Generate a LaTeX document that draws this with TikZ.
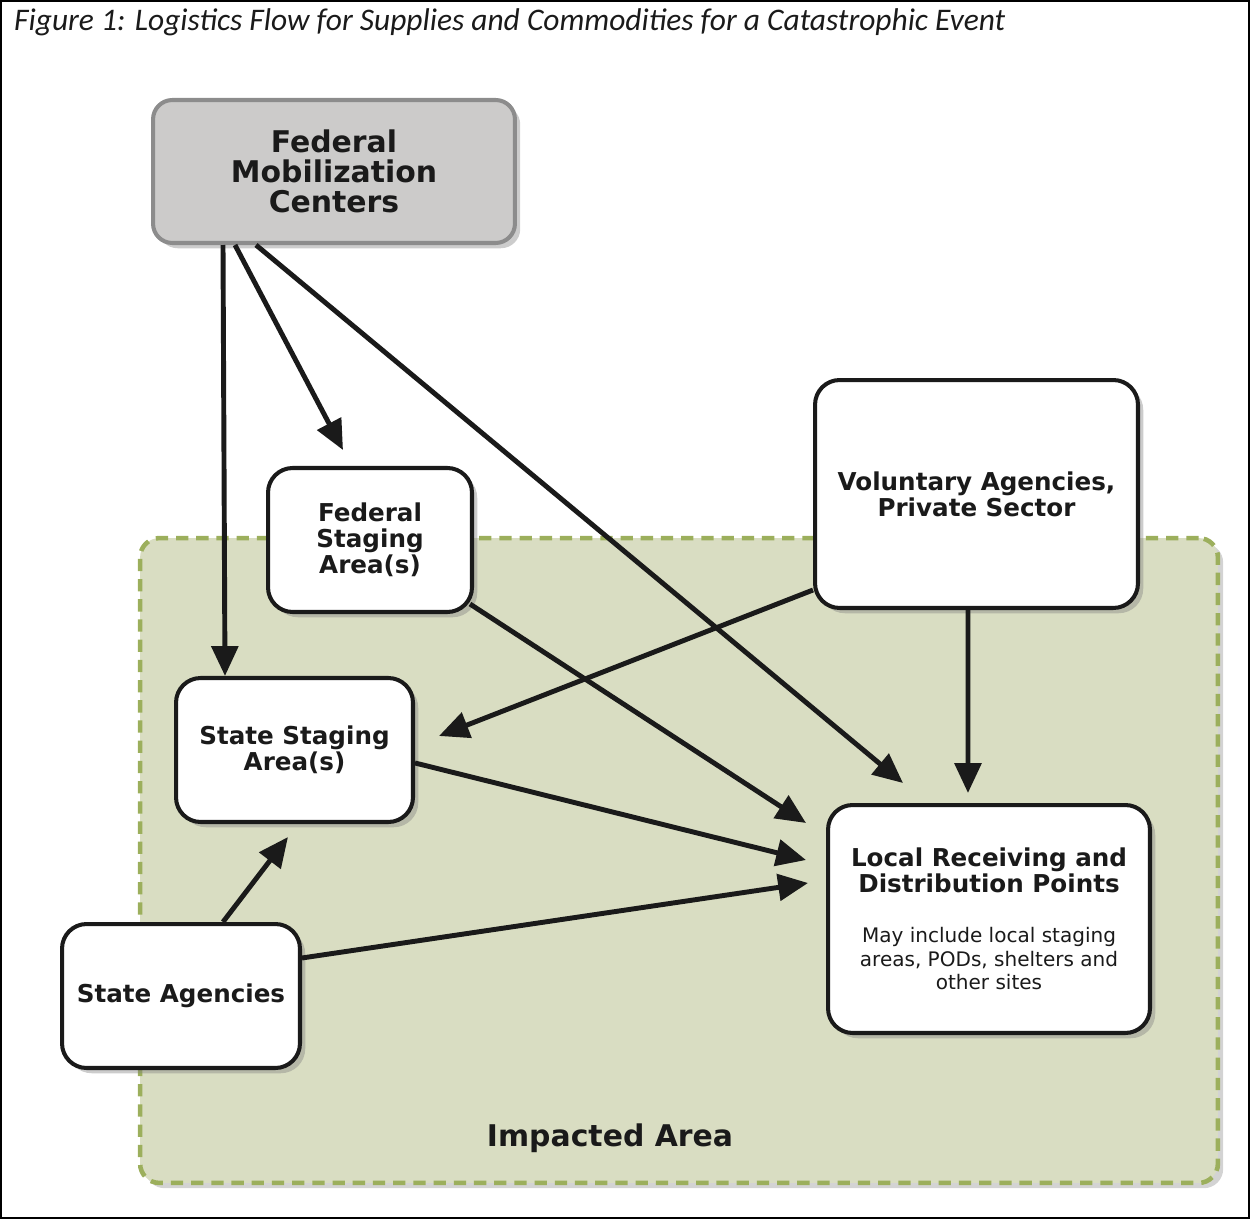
\documentclass[tikz,border=0pt]{standalone}
\usepackage{fontspec}
\setmainfont{DejaVu Sans}
\newfontfamily\captionfont{Carlito}
\usetikzlibrary{shadows}
\usetikzlibrary{arrows.meta}
\usetikzlibrary{positioning}

\definecolor{areagreen}{HTML}{D9DDC2}
\definecolor{dashgreen}{HTML}{9CAF5C}
\definecolor{boxgrey}{HTML}{CCCBCA}
\definecolor{edgegrey}{HTML}{8C8C8C}
\definecolor{inkdark}{HTML}{1A1A1A}

\begin{document}
\begin{tikzpicture}[x=0.02cm,y=-0.02cm,>={Triangle[length=17pt,width=15pt]},
	main node/.style={draw=inkdark,line width=2.3pt,fill=white,rounded corners=14pt,
		align=center,text=inkdark,inner sep=0pt,
		font=\bfseries\fontsize{14}{14.8}\selectfont,
		drop shadow={shadow xshift=3pt,shadow yshift=-3pt,opacity=0.4}},
	grey node/.style={main node,draw=edgegrey,fill=boxgrey,rounded corners=11pt,
		font=\bfseries\fontsize{17}{17}\selectfont},
	area/.style={draw=dashgreen,fill=areagreen,line width=2.6pt,
		dash pattern=on 7pt off 4.5pt,rounded corners=11pt,
		drop shadow={shadow xshift=3pt,shadow yshift=-3pt,opacity=0.35}},
	flow/.style={->,draw=inkdark,line width=2.8pt}]

	\useasboundingbox (0,0) rectangle (1250,1219);
	\draw[line width=1.2pt] (1,1) rectangle (1249,1218);

	\node[anchor=west,text=inkdark] (title) at (8,22)
		{\captionfont\itshape\fontsize{17.9}{20}\selectfont Figure 1: Logistics Flow for Supplies and Commodities for a Catastrophic Event};

	% impacted area in the background
	\node[area,minimum width=21.56cm,minimum height=12.9cm] (impact) at (679,860.5) {};
	\node[text=inkdark,font=\bfseries\fontsize{17}{17}\selectfont] (impactlabel) at (610,1138) {Impacted Area};

	\node[grey node,minimum width=7.24cm,minimum height=2.86cm] (fmc) at (334,171.5)
		{Federal\\Mobilization\\Centers};
	\node[main node,minimum width=4.08cm,minimum height=2.88cm] (fsa) at (370,540)
		{Federal\\Staging\\Area(s)};
	\node[main node,minimum width=6.46cm,minimum height=4.56cm] (vaps) at (976.5,494)
		{Voluntary Agencies,\\Private Sector};
	\node[main node,minimum width=4.74cm,minimum height=2.88cm] (ssa) at (294.5,750)
		{State Staging\\Area(s)};
	\node[main node,minimum width=4.76cm,minimum height=2.88cm] (sa) at (181,996)
		{State Agencies};
	\node[main node,minimum width=6.44cm,minimum height=4.56cm,
		font=\mdseries\fontsize{11.4}{13.4}\selectfont] (lrdp) at (989,919)
		{\bfseries\fontsize{14}{13.4}\selectfont Local Receiving and\\
		\bfseries\fontsize{14}{13.4}\selectfont Distribution Points\\[15pt]
		May include local staging\\areas, PODs, shelters and\\other sites};

	\path[every edge/.append style={flow}]
	([xshift=1.44cm]fmc.south west) edge ([xshift=1.02cm]ssa.north west)
	([xshift=1.68cm]fmc.south west) edge ([xshift=1.54cm,yshift=0.32cm]fsa.north west)
	([xshift=2.1cm]fmc.south west) edge ([xshift=1.54cm,yshift=0.4cm]lrdp.north west)
	([xshift=-0.08cm,yshift=0.2cm]fsa.south east) edge ([xshift=-0.4cm,yshift=-0.4cm]lrdp.north west)
	([yshift=0.4cm]vaps.south west) edge ([xshift=0.48cm,yshift=-1.2cm]ssa.north east)
	([xshift=3.1cm]vaps.south west) edge ([xshift=2.84cm,yshift=0.2cm]lrdp.north west)
	([yshift=-1.74cm]ssa.north east) edge ([xshift=-0.4cm,yshift=-1.14cm]lrdp.north west)
	([xshift=3.26cm]sa.north west) edge ([xshift=2.28cm,yshift=-0.26cm]ssa.south west)
	([yshift=-0.72cm]sa.north east) edge ([xshift=-0.36cm,yshift=-1.6cm]lrdp.north west);
\end{tikzpicture}
\end{document}
